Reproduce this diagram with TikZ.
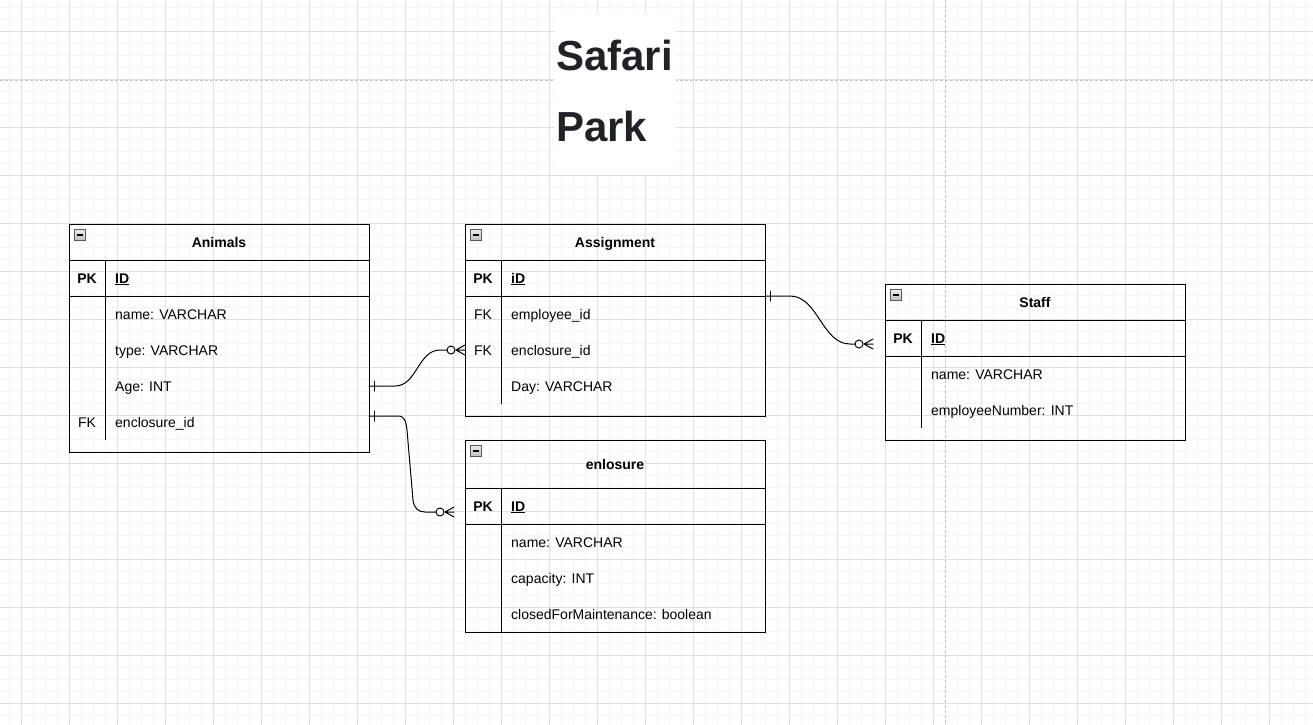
\documentclass[tikz,border=0pt]{standalone}
\usepackage{fontspec}
\setmainfont{Liberation Sans}
\definecolor{gmaj}{HTML}{E0E0E0}
\definecolor{gmin}{HTML}{F5F5F5}
\definecolor{pgline}{HTML}{C4C4C4}
\definecolor{titlec}{HTML}{1F2328}
\tikzset{
  tbl/.style={draw=black, line width=1pt, anchor=north west, inner sep=0pt, outer sep=0pt, minimum width=300pt},
  sep/.style={line width=1pt},
  fld/.style={font=\fontsize{14}{16}\selectfont, anchor=west, inner sep=0pt, text height=13pt, text depth=3pt},
  keyc/.style={font=\fontsize{14}{16}\selectfont, anchor=center, inner sep=0pt, text height=13pt, text depth=3pt},
  keyb/.style={keyc, font=\bfseries\fontsize{14}{16}\selectfont},
  idf/.style={fld, font=\bfseries\fontsize{14}{16}\selectfont},
  ttl/.style={keyc, font=\bfseries\fontsize{14}{16}\selectfont},
  bigt/.style={font=\bfseries\fontsize{42}{50}\selectfont, text=titlec, anchor=base west, inner sep=0pt},
  minus/.style={draw=gray!70!black, line width=0.6pt, top color=gray!15, bottom color=gray!50, minimum width=11pt, minimum height=11pt, inner sep=0pt, anchor=north west},
  rel/.style={line width=1pt, line cap=round},
  grmin/.style={gmin, line width=1pt},
  grmaj/.style={gmaj, line width=1pt},
  pgl/.style={pgline, line width=1pt, dash pattern=on 3pt off 2pt}
}
\newcommand\minusbox[2]{%
  \node[minus] (#1) at (#2) {};
  \draw[line width=1.5pt] ([xshift=2.5pt]#1.west) -- ([xshift=-2.5pt]#1.east);}
\newcommand\onemark[1]{%
  \draw[rel] ([xshift=5pt,yshift=5pt]#1) -- ([xshift=5pt,yshift=-5pt]#1);}
\newcommand\zeromany[1]{%
  \draw[rel, fill=white] ([xshift=-14pt]#1) circle[radius=4pt];
  \draw[rel] ([xshift=-9pt]#1) -- ([yshift=5pt]#1)
             ([xshift=-9pt]#1) -- (#1)
             ([xshift=-9pt]#1) -- ([yshift=-5pt]#1);}
\begin{document}
\begin{tikzpicture}[x=1pt,y=-1pt]
\useasboundingbox (0,0) rectangle (1313,724);
\fill[white] (0,0) rectangle (1313,724);
% grid
\foreach \x in {9,21,...,1313} \draw[grmin] (\x,0) -- (\x,724);
\foreach \y in {7,19,...,724} \draw[grmin] (0,\y) -- (1313,\y);
\foreach \x in {21,69,...,1313} \draw[grmaj] (\x,0) -- (\x,724);
\foreach \y in {31,79,...,724} \draw[grmaj] (0,\y) -- (1313,\y);
% page breaks
\draw[pgl] (0,80) -- (1313,80);
\draw[pgl] (945,0) -- (945,724);
% title
\fill[white] (555,13) rectangle (676,175);
\node[bigt] (t1) at (556,70) {Safari};
\node[bigt] (t2) at (556,141) {Park};

% ---------- Animals ----------
\node[tbl, minimum height=228pt] (animals) at (69,224) {};
\draw[sep] (69,260) -- (369,260);
\draw[sep] (69,296) -- (369,296);
\draw[sep] (105,260) -- (105,440);
\minusbox{an-m}{74,229}
\node[ttl] (an-t) at (219,242) {Animals};
\node[keyb] (an-pk) at (87,278) {PK};
\node[idf] (an-id) at (115,278) {\underline{ID}};
\node[fld] (an-f1) at (115,314) {name: VARCHAR};
\node[fld] (an-f2) at (115,350) {type: VARCHAR};
\node[fld] (an-f3) at (115,386) {Age: INT};
\node[keyc] (an-fk) at (87,422) {FK};
\node[fld] (an-f4) at (115,422) {enclosure\_id};

% ---------- Assignment ----------
\node[tbl, minimum height=192pt] (assign) at (465,224) {};
\draw[sep] (465,260) -- (765,260);
\draw[sep] (465,296) -- (765,296);
\draw[sep] (501,260) -- (501,404);
\minusbox{as-m}{470,229}
\node[ttl] (as-t) at (615,242) {Assignment};
\node[keyb] (as-pk) at (483,278) {PK};
\node[idf] (as-id) at (511,278) {\underline{iD}};
\node[keyc] (as-fk1) at (483,314) {FK};
\node[fld] (as-f1) at (511,314) {employee\_id};
\node[keyc] (as-fk2) at (483,350) {FK};
\node[fld] (as-f2) at (511,350) {enclosure\_id};
\node[fld] (as-f3) at (511,386) {Day: VARCHAR};

% ---------- Staff ----------
\node[tbl, minimum height=156pt] (staff) at (885,284) {};
\draw[sep] (885,320) -- (1185,320);
\draw[sep] (885,356) -- (1185,356);
\draw[sep] (921,320) -- (921,428);
\minusbox{st-m}{890,289}
\node[ttl] (st-t) at (1035,302) {Staff};
\node[keyb] (st-pk) at (903,338) {PK};
\node[idf] (st-id) at (931,338) {\underline{ID}};
\node[fld] (st-f1) at (931,374) {name: VARCHAR};
\node[fld] (st-f2) at (931,410) {employeeNumber: INT};

% ---------- enlosure ----------
\node[tbl, minimum height=192pt] (enl) at (465,440) {};
\draw[sep] (465,488) -- (765,488);
\draw[sep] (465,524) -- (765,524);
\draw[sep] (501,488) -- (501,632);
\minusbox{en-m}{470,445}
\node[ttl] (en-t) at (615,464) {enlosure};
\node[keyb] (en-pk) at (483,506) {PK};
\node[idf] (en-id) at (511,506) {\underline{ID}};
\node[fld] (en-f1) at (511,542) {name: VARCHAR};
\node[fld] (en-f2) at (511,578) {capacity: INT};
\node[fld] (en-f3) at (511,614) {closedForMaintenance: boolean};

% ---------- connectors ----------
\coordinate (s1) at (animals.east |- an-f3);
\coordinate (e1) at (assign.west |- as-f2);
\coordinate (s2) at ([yshift=6pt]animals.east |- an-f4);
\coordinate (e2) at ([xshift=-11pt,yshift=-6pt]enl.west |- en-id);
\coordinate (s3) at ([yshift=-18pt]assign.east |- as-id);
\coordinate (e3) at ([xshift=-12pt,yshift=-6pt]staff.west |- st-id);

\draw[rel] (s1) -- ++(26,0) .. controls +(22,0) and +(-22,0) .. ([xshift=-25pt]e1) -- ([xshift=-18pt]e1);
\onemark{s1}
\zeromany{e1}

\draw[rel] (s2) -- ++(29,0) .. controls +(7,0) and +(-1,-8) .. ++(9,14) -- ++(6,70) .. controls +(1,8) and +(-7,0) .. ++(12,12) -- ([xshift=-18pt]e2);
\onemark{s2}
\zeromany{e2}

\draw[rel] (s3) -- ++(25,0) .. controls +(28,0) and +(-28,0) .. ([xshift=-23pt]e3) -- ([xshift=-18pt]e3);
\onemark{s3}
\zeromany{e3}
\end{tikzpicture}
\end{document}
